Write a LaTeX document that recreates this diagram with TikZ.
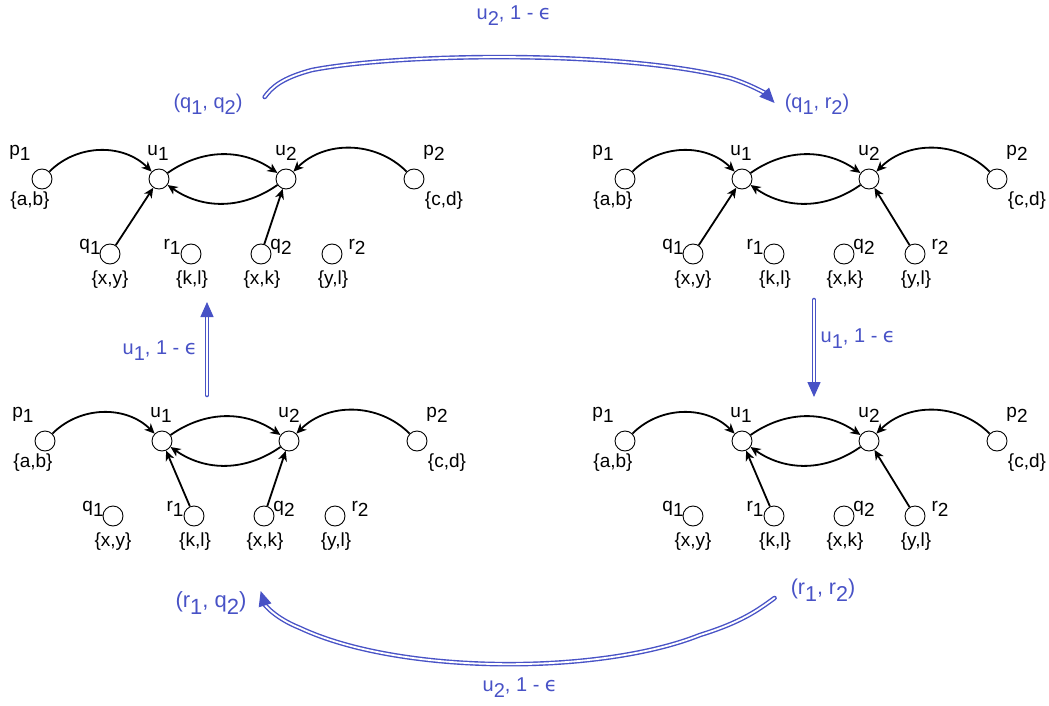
\documentclass[tikz,border=0pt]{standalone}
\usepackage{fontspec}
\setmainfont{Liberation Sans}
\newfontfamily\epsfont{DejaVu Sans}
\usetikzlibrary{arrows.meta}
\definecolor{moveblue}{RGB}{72,82,198}
\newcommand{\sub}[1]{\raisebox{-0.3em}{#1}}
\newcommand{\eps}{{\epsfont ϵ}}
\tikzset{
  st/.style={circle, draw, line width=0.9pt, minimum size=20pt, inner sep=0pt},
  lab/.style={inner sep=0pt, font=\fontsize{19}{21}\selectfont},
  edge/.style={-{Stealth[length=10pt,width=9pt,inset=3pt]}, line width=1.8pt},
  move/.style={draw=moveblue, double=white, double distance=1.8pt, line width=1.4pt,
    line cap=round, -{Triangle[length=15pt,width=13pt]}},
  movelab/.style={inner sep=0pt, text=moveblue, font=\fontsize{20}{22}\selectfont},
}
% one game graph: shift, name prefix, source into u1, source into u2
\newcommand{\gamegraph}[4]{%
  \begin{scope}[shift={#1}]
    \node[st] (#2p1) at (0,0) {};
    \node[st] (#2u1) at (117,0) {};
    \node[st] (#2u2) at (244,0) {};
    \node[st] (#2p2) at (372,0) {};
    \node[st] (#2q1) at (68,-75) {};
    \node[st] (#2r1) at (149,-75) {};
    \node[st] (#2q2) at (219,-75) {};
    \node[st] (#2r2) at (290,-75) {};
    \node[lab] (#2p1l) at (-22,26) {p\sub1};
    \node[lab] (#2u1l) at (116,26) {u\sub1};
    \node[lab] (#2u2l) at (244,26) {u\sub2};
    \node[lab] (#2p2l) at (392,26) {p\sub2};
    \node[lab] (#2p1s) at (-12,-22) {\{a,b\}};
    \node[lab] (#2p2s) at (402,-22) {\{c,d\}};
    \node[lab] (#2q1l) at (48,-68) {q\sub1};
    \node[lab] (#2r1l) at (130,-68) {r\sub1};
    \node[lab] (#2q2l) at (239,-68) {q\sub2};
    \node[lab] (#2r2l) at (315,-68) {r\sub2};
    \node[lab] (#2q1s) at (68,-101) {\{x,y\}};
    \node[lab] (#2r1s) at (150,-101) {\{k,l\}};
    \node[lab] (#2q2s) at (220,-101) {\{x,k\}};
    \node[lab] (#2r2s) at (291,-101) {\{y,l\}};
    \draw[edge] (#2p1) to[bend left=45] (#2u1);
    \draw[edge] (#2u1) to[bend left=35] (#2u2);
    \draw[edge] (#2u2) to[bend left=35] (#2u1);
    \draw[edge] (#2p2) to[bend right=45] (#2u2);
    \draw[edge] (#2#3) -- (#2u1);
    \draw[edge] (#2#4) -- (#2u2);
  \end{scope}}

\begin{document}
\begin{tikzpicture}[x=1pt, y=1pt]
  \useasboundingbox (0,0) rectangle (1049,-706);
  \gamegraph{(42,-179)}{qq}{q1}{q2}
  \gamegraph{(625,-179)}{qr}{q1}{r2}
  \gamegraph{(45,-441)}{rq}{r1}{q2}
  \gamegraph{(625,-441)}{rr}{r1}{r2}

  \node[movelab] (sqq) at (208,-104) {(q\sub1, q\sub2)};
  \node[movelab] (sqr) at (817,-104) {(q\sub1, r\sub2)};
  \node[movelab, font=\fontsize{22}{24}\selectfont] (srq) at (211,-603) {(r\sub1, q\sub2)};
  \node[movelab, font=\fontsize{21.5}{24}\selectfont] (srr) at (823,-590) {(r\sub1, r\sub2)};
  \node[movelab] (mtop) at (514,-16) {u\sub2, 1 - \eps};
  \node[movelab] (mleft) at (160,-351) {u\sub1, 1 - \eps};
  \node[movelab] (mright) at (858,-339) {u\sub1, 1 - \eps};
  \node[movelab] (mbot) at (520,-688) {u\sub2, 1 - \eps};

  \coordinate (lb) at (207,-395);
  \coordinate (lt) at (207,-302);
  \coordinate (rt) at (814,-300);
  \coordinate (rb) at (814,-397);
  \draw[move] (lb) -- (lt);
  \draw[move] (rt) -- (rb);
  \draw[move] ([shift={(22,7)}]sqq.east) .. controls (272,-87) and (282,-78) .. (312,-70)
    .. controls (400,-53) and (620,-50) .. (730,-78)
    .. controls (752,-85) and (766,-94) .. ([shift={(-10,1)}]sqr.west);
  \draw[move] ([shift={(-16,-8)}]srr.west) .. controls (758,-610) and (742,-622) .. (700,-635)
    .. controls (600,-675) and (400,-675) .. (300,-628)
    .. controls (275,-618) and (265,-605) .. ([shift={(14,12)}]srq.east);
\end{tikzpicture}
\end{document}
